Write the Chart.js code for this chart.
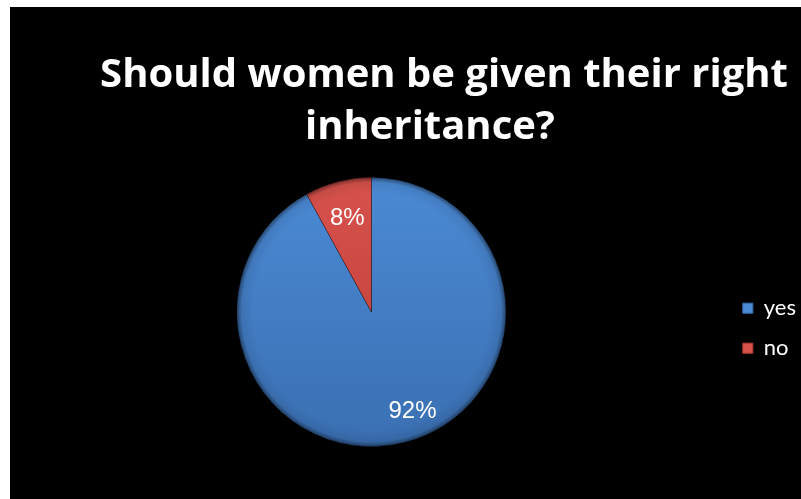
<!DOCTYPE html>
<html>
<head>
<meta charset="utf-8">
<script src="https://cdn.jsdelivr.net/npm/chart.js@4.4.1/dist/chart.umd.min.js"></script>
<style>
    html, body { margin: 0; padding: 0; background: #fff; }
    .wrap-chart { position: absolute; left: 10px; top: 7px; width: 791px; height: 492px; background: #000; }
</style>
</head>
<body>
<div class="wrap-chart"><canvas id="myChart"></canvas></div>
<script>
const categories = ['yes', 'no']
const answers = [92, 8]
const titleLines = ['Should women be given their right', 'inheritance?']

// top / bottom colours for each slice
const sliceColors = [
    ['#4b8ad5', '#3a6fb2'],
    ['#d8524c', '#b93a36']
]

const sliceFill = (context) => {
    const chart = context.chart
    const area = chart.chartArea
    const c = sliceColors[context.dataIndex % sliceColors.length]
    if (!area) return c[0]
    const g = chart.ctx.createLinearGradient(0, area.top, 0, area.bottom)
    g.addColorStop(0, c[0])
    g.addColorStop(1, c[1])
    return g
}

const titlePlugin = {
    id: 'titleLines',
    afterDraw(chart) {
        const ctx = chart.ctx
        const xs = [434, 420]
        ctx.save()
        ctx.fillStyle = '#fff'
        ctx.font = 'bold 40px "Open Sans"'
        ctx.textAlign = 'center'
        ctx.textBaseline = 'alphabetic'
        titleLines.forEach((line, i) => ctx.fillText(line, xs[i], 80 + i * 52))
        ctx.restore()
    }
}

// darker bevel along the pie rim
const rimShade = {
    id: 'rimShade',
    afterDatasetsDraw(chart) {
        const arc = chart.getDatasetMeta(0).data[0]
        if (!arc) return
        const p = arc.getProps(['x', 'y', 'outerRadius'], true)
        const ctx = chart.ctx
        const g = ctx.createRadialGradient(p.x, p.y, p.outerRadius * 0.88, p.x, p.y, p.outerRadius)
        g.addColorStop(0, 'rgba(0,0,0,0)')
        g.addColorStop(0.7, 'rgba(0,0,0,0.08)')
        g.addColorStop(1, 'rgba(0,0,0,0.45)')
        ctx.save()
        ctx.beginPath()
        ctx.arc(p.x, p.y, p.outerRadius, 0, Math.PI * 2)
        ctx.fillStyle = g
        ctx.fill()
        ctx.restore()
    }
}

const percentLabels = {
    id: 'percentLabels',
    afterDatasetsDraw(chart) {
        const ctx = chart.ctx
        const meta = chart.getDatasetMeta(0)
        const data = chart.data.datasets[0].data
        const total = data.reduce((a, b) => a + b, 0)
        ctx.save()
        ctx.fillStyle = '#fff'
        ctx.font = '24px "Liberation Sans"'
        ctx.textAlign = 'center'
        ctx.textBaseline = 'middle'
        meta.data.forEach((arc, i) => {
            const p = arc.getProps(['x', 'y', 'startAngle', 'endAngle', 'outerRadius'], true)
            const mid = (p.startAngle + p.endAngle) / 2
            const rr = p.outerRadius * (i === 0 ? 0.8 : 0.72)
            const shift = i === 0 ? 0.14 : 0
            ctx.fillText(Math.round(data[i] / total * 100) + '%',
                p.x + Math.cos(mid - shift) * rr, p.y + Math.sin(mid - shift) * rr)
        })
        ctx.restore()
    }
}

const pieChart = () => {
    new Chart('myChart', {
        type: 'pie',
        data: {
            labels: categories,
            datasets: [{
                data: answers,
                backgroundColor: sliceFill,
                borderColor: 'rgba(0,0,0,0.3)',
                borderWidth: 1
            }]
        },
        options: {
            responsive: true,
            maintainAspectRatio: false,
            animation: false,
            layout: {
                padding: { top: 170, bottom: 52, left: 8, right: -5 }
            },
            plugins: {
                tooltip: { enabled: false },
                legend: {
                    position: 'right',
                    title: { display: true, text: '', padding: { top: 18, bottom: 0 } },
                    labels: {
                        color: '#fff',
                        boxWidth: 10,
                        boxHeight: 10,
                        padding: 18,
                        font: { family: 'Lato', size: 22 },
                        generateLabels(chart) {
                            return categories.map((name, i) => ({
                                text: name,
                                fillStyle: sliceColors[i][0],
                                strokeStyle: sliceColors[i][1],
                                lineWidth: 1,
                                fontColor: '#fff',
                                index: i
                            }))
                        }
                    }
                }
            }
        },
        plugins: [titlePlugin, rimShade, percentLabels]
    })
}

pieChart()
</script>
</body>
</html>
